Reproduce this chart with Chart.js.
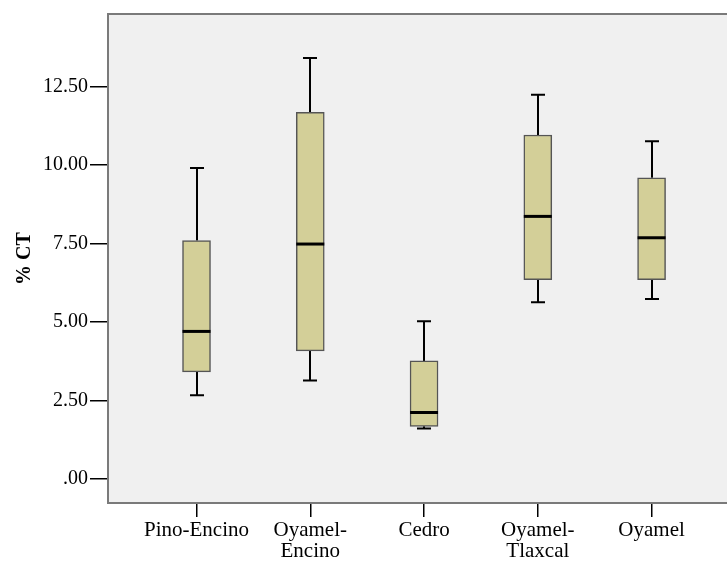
<!DOCTYPE html>
<html>
<head>
<meta charset="utf-8">
<script src="https://cdn.jsdelivr.net/npm/chart.js@4/dist/chart.umd.min.js"></script>
<style>
  html, body { margin: 0; padding: 0; background: #fff; }
  #wrap { width: 727px; height: 561px; position: relative; }
</style>
</head>
<body>
<div id="wrap"><canvas id="myChart"></canvas></div>
<script>
// categories and box-plot summaries (% CT)
const categories = ['Pino-Encino', ['Oyamel-', 'Encino'], 'Cedro', ['Oyamel-', 'Tlaxcal'], 'Oyamel'];
const whiskerLow = [2.67, 3.14, 1.61, 5.63, 5.73];
const q1 = [3.41, 4.08, 1.68, 6.35, 6.35];
const median = [4.70, 7.48, 2.12, 8.36, 7.68];
const q3 = [7.59, 11.67, 3.76, 10.95, 9.59];
const whiskerHigh = [9.90, 13.40, 5.02, 12.23, 10.75];
const yTicks = [0, 2.5, 5, 7.5, 10, 12.5];

const serif = "'Liberation Serif', 'Times New Roman', serif";

const boxData = categories.map((c, i) => ({ x: i + 1, y: [q1[i], q3[i]] }));

// plot background, frame, whiskers and medians
const boxplotExtras = {
    id: 'boxplotExtras',
    beforeDatasetsDraw(chart) {
        const { ctx, scales: { x, y } } = chart;
        ctx.save();
        ctx.strokeStyle = '#000';
        ctx.lineWidth = 2;
        categories.forEach((c, i) => {
            const px = Math.round(x.getPixelForValue(i + 1));
            const lo = y.getPixelForValue(whiskerLow[i]);
            const hi = y.getPixelForValue(whiskerHigh[i]);
            ctx.beginPath();
            ctx.moveTo(px, hi); ctx.lineTo(px, y.getPixelForValue(q3[i]));
            ctx.moveTo(px, lo); ctx.lineTo(px, y.getPixelForValue(q1[i]));
            ctx.moveTo(px - 7, hi); ctx.lineTo(px + 7, hi);
            ctx.moveTo(px - 7, lo); ctx.lineTo(px + 7, lo);
            ctx.stroke();
        });
        ctx.restore();
    },
    afterDatasetsDraw(chart) {
        const { ctx, scales: { x, y } } = chart;
        ctx.save();
        ctx.strokeStyle = '#000';
        ctx.lineWidth = 3;
        categories.forEach((c, i) => {
            const px = x.getPixelForValue(i + 1);
            const py = y.getPixelForValue(median[i]);
            ctx.beginPath();
            ctx.moveTo(px - 14, py); ctx.lineTo(px + 14, py);
            ctx.stroke();
        });
        ctx.restore();
    },
    beforeDraw(chart) {
        const { ctx, chartArea: a } = chart;
        ctx.save();
        ctx.fillStyle = '#f0f0f0';
        ctx.fillRect(a.left, a.top, a.right - a.left, a.bottom - a.top);
        ctx.restore();
    },
    afterDraw(chart) {
        const { ctx, chartArea: a } = chart;
        ctx.save();
        ctx.strokeStyle = '#7a7a7a';
        ctx.lineWidth = 2;
        ctx.strokeRect(a.left, a.top, a.right - a.left + 2, a.bottom - a.top);
        ctx.restore();
    }
};

const ctx = document.getElementById('myChart').getContext('2d');
const myChart = new Chart(ctx, {
    type: 'bar',
    data: {
        datasets: [{
            data: boxData,
            backgroundColor: '#d3cf98',
            borderColor: '#555',
            borderWidth: 1.5,
            borderSkipped: false,
            barThickness: 28
        }]
    },
    options: {
        responsive: true,
        maintainAspectRatio: false,
        animation: false,
        layout: { padding: { top: 13, right: 0, left: 0, bottom: 0 } },
        scales: {
            x: {
                type: 'linear',
                offset: false,
                min: 0.222,
                max: 5.663,
                afterBuildTicks: (scale) => {
                    scale.ticks = categories.map((c, i) => ({ value: i + 1 }));
                },
                afterFit: (scale) => { scale.height = 58; },
                grid: {
                    offset: false,
                    drawOnChartArea: false,
                    drawTicks: true,
                    tickLength: 14,
                    lineWidth: 1.5,
                    color: '#000'
                },
                border: { display: false },
                ticks: {
                    color: '#000',
                    padding: 3,
                    maxRotation: 0,
                    autoSkip: false,
                    font: { family: serif, size: 21, lineHeight: 1.0 },
                    callback: (v) => categories[v - 1]
                }
            },
            y: {
                min: -0.76,
                max: 14.8,
                afterBuildTicks: (scale) => {
                    scale.ticks = yTicks.map(v => ({ value: v }));
                },
                afterFit: (scale) => { scale.width = 108; },
                grid: {
                    drawOnChartArea: false,
                    drawTicks: true,
                    tickLength: 18,
                    lineWidth: 1.5,
                    color: '#000'
                },
                border: { display: false },
                ticks: {
                    color: '#000',
                    padding: 2,
                    font: { family: serif, size: 20 },
                    callback: (v) => v === 0 ? '.00' : v.toFixed(2)
                },
                title: {
                    display: true,
                    text: '% CT',
                    color: '#000',
                    padding: { top: 13, bottom: 0 },
                    font: { family: serif, size: 20, weight: 'bold' }
                }
            }
        },
        plugins: {
            legend: { display: false },
            tooltip: { enabled: false }
        }
    },
    plugins: [boxplotExtras]
});
</script>
</body>
</html>
